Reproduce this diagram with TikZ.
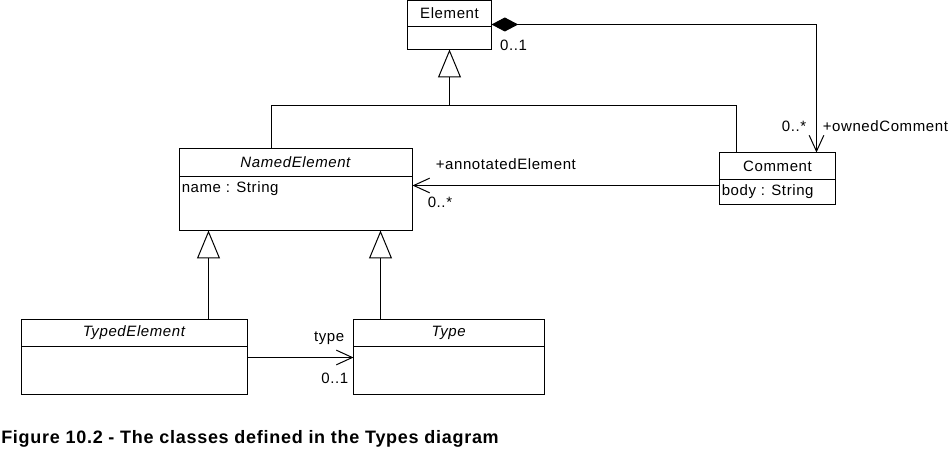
\documentclass[tikz,border=0pt]{standalone}
\usepackage{fontspec}
\newfontfamily\umlfont{Liberation Sans}[LetterSpace=4]
\newfontfamily\capfont{Liberation Sans}[LetterSpace=4]
\usetikzlibrary{arrows.meta, positioning, calc}

\tikzset{
  uml/.style={font=\umlfont\fontsize{11.25}{13}\selectfont},
  headbox/.style={uml, draw, line width=0.75pt, inner sep=0pt, outer sep=0pt, anchor=north west},
  bodybox/.style={draw, line width=0.75pt, inner sep=0pt, outer sep=0pt, anchor=north west},
  attr/.style={uml, inner sep=0pt, anchor=base west},
  lbl/.style={uml, inner sep=0pt},
  assoc/.style={line width=0.75pt, -{Straight Barb[length=12pt, width=11pt]}},
  gen/.style={line width=0.75pt, -{Triangle[open, length=21pt, width=17.25pt, fill=white]}},
  compo/.style={line width=0.75pt, {Diamond[length=20pt, width=10.5pt]}-{Straight Barb[length=12pt, width=11pt]}}
}

\begin{document}
\begin{tikzpicture}[x=0.75pt, y=-0.75pt]
\useasboundingbox (0,0) rectangle (950,459);
\begin{scope}[shift={(0.5,0.5)}]
% class boxes: name / x / y / width / head height / body height / title
\foreach \nm/\x/\y/\w/\hh/\hb/\txt in {
    elem/407/0/63/19.5/17.25/Element,
    named/179/148/174.75/21/40.5/\textit{NamedElement},
    comm/719/152/87/20.25/18.75/Comment,
    typed/21/319/169.5/20.25/36/\textit{TypedElement},
    type/353/319/143.25/20.25/36/\textit{Type}} {
  \node[headbox, minimum width=\w pt, minimum height=\hh pt] (\nm h) at (\x,\y) {\txt};
  \node[bodybox, minimum width=\w pt, minimum height=\hb pt] (\nm b) at (\nm h.south west) {};
}
\node[attr] (nameattr) at ($(namedb.north west)+(2,16)$) {name : String};
\node[attr] (bodyattr) at ($(commb.north west)+(2,16)$) {body : String};

% generalizations
\coordinate (joinE) at (449,105);
\draw[gen] ($(namedh.north west)+(92,0)$) |- (joinE) -- (elemb.south -| joinE);
\draw[line width=0.75pt] ($(commh.north west)+(17,0)$) |- (joinE);
\draw[gen] ($(typedh.north west)+(187,0)$) coordinate (g1) -- (g1 |- namedb.south);
\draw[gen] ($(typeh.north west)+(27,0)$) coordinate (g2) -- (g2 |- namedb.south);

% associations
\draw[compo] ($(elemh.south east)+(0,-2)$) -| ($(commh.north west)+(97,0)$);
\draw[assoc] ($(commb.north west)+(0,6)$) coordinate (a1) -- (a1 -| namedb.east);
\draw[assoc] ($(typedb.north east)+(0,11)$) coordinate (t1) -- (t1 -| typeb.west);

\node[lbl] (mul1) at (513,45) {0..1};
\node[lbl, anchor=east] (mul2) at (806,126) {0..*};
\node[lbl, anchor=west] (role1) at (822,126) {+ownedComment};
\node[lbl, anchor=west] (role2) at (435,164) {+annotatedElement};
\node[lbl, anchor=west] (mul3) at (427,202) {0..*};
\node[lbl, anchor=east] (role3) at (344,338) {type};
\node[lbl, anchor=east] (mul4) at (348,378) {0..1};
\end{scope}

\node[inner sep=0pt, anchor=base west, font=\capfont\bfseries\fontsize{13.5}{16}\selectfont] (caption) at (1,444) {Figure 10.2 - The classes defined in the Types diagram};
\end{tikzpicture}
\end{document}
